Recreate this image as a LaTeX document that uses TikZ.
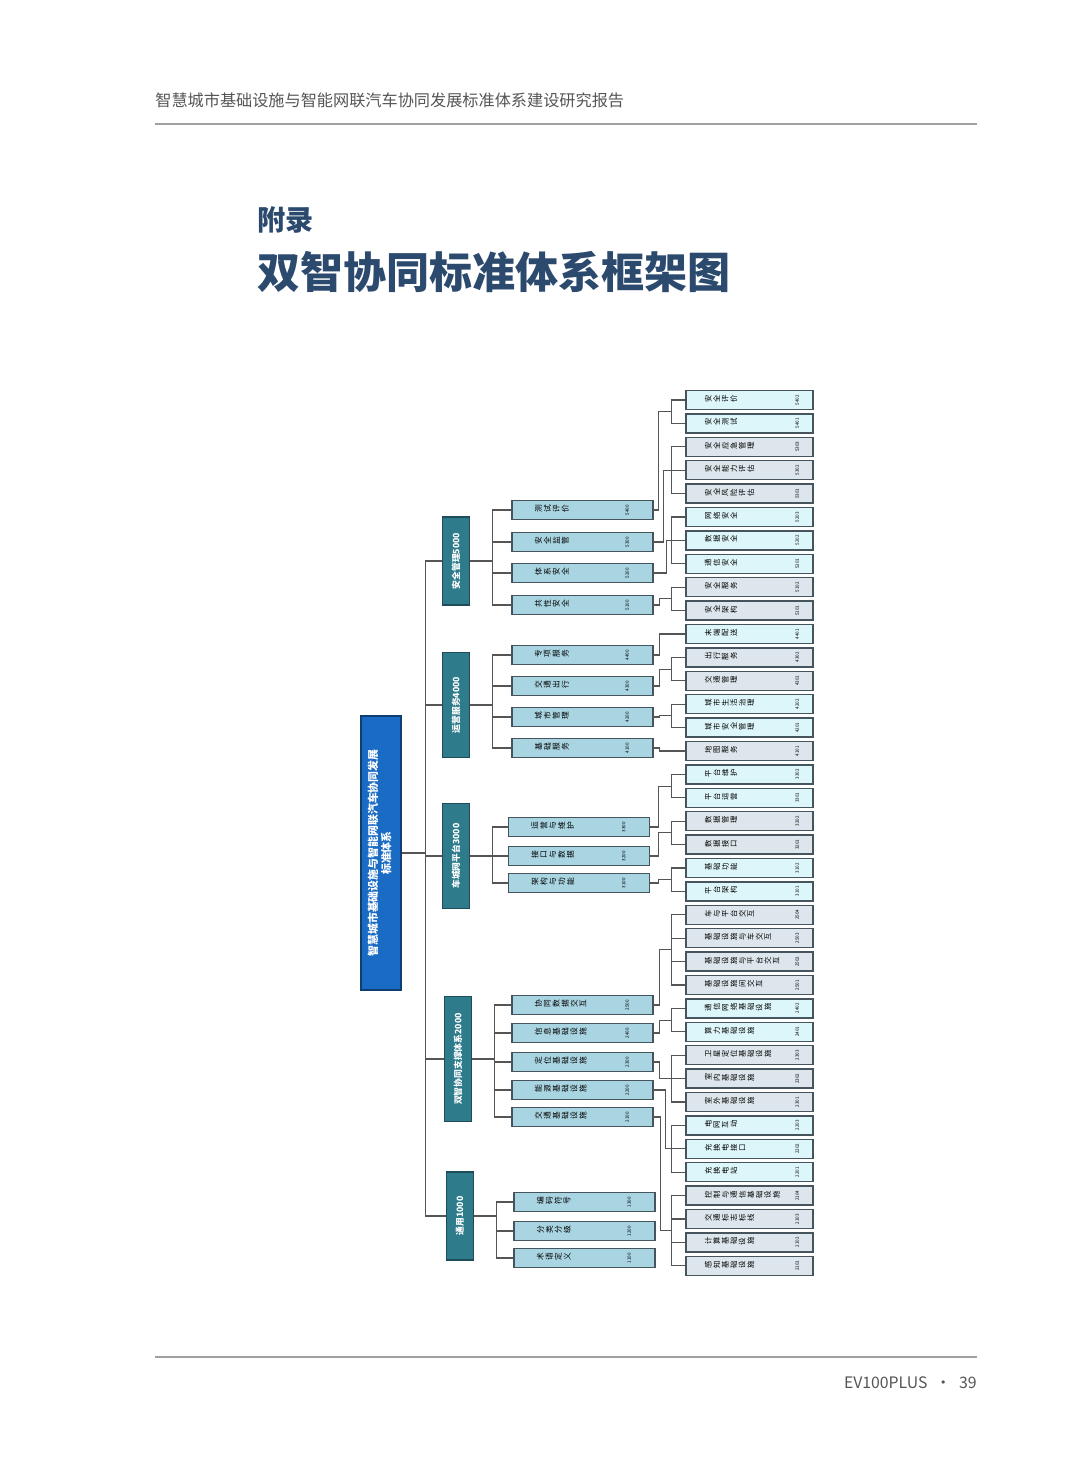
\documentclass[tikz,border=0pt]{standalone}
\usepackage{fontspec}
\usepackage{graphicx}
\usepackage{xcolor}
\setmainfont{Noto Sans CJK SC}
\usetikzlibrary{calc}

\definecolor{rootblue}{HTML}{1A6BC4}
\definecolor{rootedge}{HTML}{0E3F73}
\definecolor{catteal}{HTML}{2E7B8C}
\definecolor{catedge}{HTML}{1E4C58}
\definecolor{subblue}{HTML}{A9D4E1}
\definecolor{boxedge}{HTML}{45545D}
\definecolor{leafA}{HTML}{DDF6FA}
\definecolor{leafB}{HTML}{DCE6EC}
\definecolor{linkgray}{HTML}{555555}
\definecolor{headgray}{HTML}{555555}
\definecolor{rulegray}{HTML}{A0A0A0}
\definecolor{titlenavy}{HTML}{2C4A6E}

% each character turned a quarter left, as in the chart
\newlength\rcpitch
\setlength\rcpitch{0.17cm}
\newcommand\rcloop[1]{\ifx#1\relax\else\makebox[\rcpitch]{\rotatebox[origin=c]{90}{#1}}\expandafter\rcloop\fi}
\newcommand\rchars[1]{\expandafter\rcloop#1\relax}
\newcommand\numfont{\fontsize{2.6}{3}\selectfont}
\newcommand\subtext[2]{\makebox[2.82cm][l]{\setlength\rcpitch{0.178cm}\hspace{0.44cm}\rchars{#1}\hfill\rotatebox[origin=c]{90}{\numfont #2}\hspace{0.48cm}}}
\newcommand\leaftext[2]{\makebox[2.54cm][l]{\setlength\rcpitch{0.17cm}\hspace{0.36cm}\rchars{#1}\hfill\rotatebox[origin=c]{90}{\numfont #2}\hspace{0.28cm}}}

\begin{document}
\begin{tikzpicture}[
  x=0.02cm, y=-0.02cm,
  root/.style={rectangle, draw=rootedge, fill=rootblue, line width=0.9pt, minimum width=0.8cm, minimum height=5.48cm, inner sep=0pt, text=white, font=\fontsize{6.2}{7.6}\selectfont\bfseries},
  cat/.style={rectangle, draw=catedge, fill=catteal, line width=0.9pt, minimum width=0.54cm, inner sep=0pt, text=white, font=\fontsize{5}{6}\selectfont\bfseries},
  sub/.style={rectangle, draw=boxedge, fill=subblue, line width=0.8pt, minimum width=2.82cm, minimum height=0.38cm, inner sep=0pt, font=\fontsize{4.4}{5}\selectfont},
  leaf/.style={rectangle, draw=boxedge, line width=0.8pt, minimum width=2.54cm, minimum height=0.38cm, inner sep=0pt, font=\fontsize{4.2}{4.8}\selectfont},
  link/.style={draw=linkgray, line width=0.6pt}
]
  \fill[white] (0,0) rectangle (1080,1465);
  \useasboundingbox (0,0) rectangle (1080,1465);

  % page head and foot
  \node[anchor=west, inner sep=0pt, text=headgray, font=\fontsize{9.2}{11}\selectfont] (head) at (155,100) {智慧城市基础设施与智能网联汽车协同发展标准体系建设研究报告};
  \draw[rulegray, line width=0.6pt] (155,124) -- (977,124);
  \node[anchor=west, inner sep=0pt, text=titlenavy, font=\fontsize{16}{18}\selectfont\bfseries] (appx) at (257,220) {附录};
  \node[anchor=west, inner sep=0pt, text=titlenavy, font=\fontsize{24.5}{28}\selectfont\bfseries] (title) at (257,272) {双智协同标准体系框架图};
  \draw[rulegray, line width=0.6pt] (155,1357) -- (977,1357);
  \node[anchor=east, inner sep=0pt, text=headgray, font=\fontsize{9}{11}\selectfont] (page) at (977,1383) {EV100PLUS\enspace·\enspace39};

  % root
  \node[root] (root) at (381,853) {\rotatebox{90}{\begin{tabular}{@{}c@{}}智慧城市基础设施与智能网联汽车协同发展\\标准体系\end{tabular}}};

  % first level
  \node[cat, minimum height=1.76cm] (c5000) at (456,561)  {\rotatebox{90}{安全管理5000}};
  \node[cat, minimum height=2.1cm]  (c4000) at (456,705)  {\rotatebox{90}{运营服务4000}};
  \node[cat, minimum height=2.1cm]  (c3000) at (456,856)  {\rotatebox{90}{车城网平台3000}};
  \node[cat, minimum height=2.5cm]  (c2000) at (458,1059) {\rotatebox{90}{双智协同支撑体系2000}};
  \node[cat, minimum height=1.76cm] (c1000) at (460,1216) {\rotatebox{90}{通用1000}};

  % second level
  \node[sub] (m5400) at (582.5,510) {\subtext{测试评价}{5400}};
  \node[sub] (m5300) at (582.5,542) {\subtext{安全监管}{5300}};
  \node[sub] (m5200) at (582.5,573) {\subtext{体系安全}{5200}};
  \node[sub] (m5100) at (582.5,605) {\subtext{共性安全}{5100}};

  \node[sub] (m4400) at (582.5,655) {\subtext{专项服务}{4400}};
  \node[sub] (m4300) at (582.5,686) {\subtext{交通出行}{4300}};
  \node[sub] (m4200) at (582.5,717) {\subtext{城市管理}{4200}};
  \node[sub] (m4100) at (582.5,748) {\subtext{基础服务}{4100}};

  \node[sub] (m3300) at (579,827) {\subtext{运营与维护}{3300}};
  \node[sub] (m3200) at (579,856) {\subtext{接口与数据}{3200}};
  \node[sub] (m3100) at (579,883) {\subtext{架构与功能}{3100}};

  \node[sub] (m2500) at (582.5,1005) {\subtext{协同数据交互}{2500}};
  \node[sub] (m2400) at (582.5,1033) {\subtext{信息基础设施}{2400}};
  \node[sub] (m2300) at (582.5,1062) {\subtext{定位基础设施}{2300}};
  \node[sub] (m2200) at (582.5,1090) {\subtext{能源基础设施}{2200}};
  \node[sub] (m2100) at (582.5,1117) {\subtext{交通基础设施}{2100}};

  \node[sub] (m1300) at (584.5,1202) {\subtext{编码符号}{1300}};
  \node[sub] (m1200) at (584.5,1231) {\subtext{分类分级}{1200}};
  \node[sub] (m1100) at (584.5,1258) {\subtext{术语定义}{1100}};

  % leaves
  \foreach \k/\txt/\code/\col in {
    0/安全评价/5402/leafA, 1/安全测试/5401/leafA,
    2/安全应急管理/5303/leafB, 3/安全能力评估/5302/leafB, 4/安全风险评估/5301/leafB,
    5/网络安全/5203/leafA, 6/数据安全/5202/leafA, 7/通信安全/5201/leafA,
    8/安全服务/5102/leafB, 9/安全架构/5101/leafB,
    10/末端配送/4401/leafA,
    11/出行服务/4302/leafB, 12/交通管理/4301/leafB,
    13/城市生活治理/4202/leafA, 14/城市安全管理/4201/leafA,
    15/地图服务/4101/leafB,
    16/平台维护/3302/leafA, 17/平台运营/3301/leafA,
    18/数据管理/3202/leafB, 19/数据接口/3201/leafB,
    20/基础功能/3102/leafA, 21/平台架构/3101/leafA,
    22/车与平台交互/2504/leafB, 23/基础设施与车交互/2503/leafB, 24/基础设施与平台交互/2502/leafB, 25/基础设施间交互/2501/leafB,
    26/通信网络基础设施/2402/leafA, 27/算力基础设施/2401/leafA,
    28/卫星定位基础设施/2303/leafB, 29/室内基础设施/2302/leafB, 30/室外基础设施/2301/leafB,
    31/电网互动/2203/leafA, 32/充换电接口/2202/leafA, 33/充换电站/2201/leafA,
    34/控制与通信基础设施/2104/leafB, 35/交通标志标线/2103/leafB, 36/计算基础设施/2102/leafB, 37/感知基础设施/2101/leafB}
    \node[leaf, fill=\col] (a\k) at (749.5,{400+23.4*\k}) {\leaftext{\txt}{\code}};

  % root to first level
  \foreach \c in {c5000,c4000,c3000,c2000,c1000}
    \draw[link] (root.east) -- ++(24,0) |- (\c.west);

  % first level to second level
  \foreach \c/\m in {c5000/m5400, c5000/m5300, c5000/m5200, c5000/m5100,
                     c4000/m4400, c4000/m4300, c4000/m4200, c4000/m4100,
                     c3000/m3300, c3000/m3200, c3000/m3100,
                     c2000/m2500, c2000/m2400, c2000/m2300, c2000/m2200, c2000/m2100,
                     c1000/m1300, c1000/m1200, c1000/m1100}
    \draw[link] (\c.east) -- ++(22,0) |- (\m.west);

  % second level to leaves
  \foreach \k in {0,...,37}
    \draw[link] (a\k.west) -- ++(-14,0);
  \foreach \m/\f/\l/\d in {m5400/0/1/5, m5300/2/4/10, m5200/5/7/13, m5100/8/9/6,
                           m4400/10/10/6, m4300/11/12/6, m4200/13/14/6, m4100/15/15/6,
                           m3300/16/17/8, m3200/18/19/8, m3100/20/21/8,
                           m2500/22/25/6, m2400/26/27/6, m2300/28/30/6, m2200/31/33/12, m2100/34/37/7} {
    \draw[link] ([xshift=-0.28cm]a\f.west) -- ([xshift=-0.28cm]a\l.west);
    \draw[link] (\m.east) -- ++(\d,0) |- ($(a\f.west)!0.5!(a\l.west)+(-14,0)$);
  }
\end{tikzpicture}
\end{document}
